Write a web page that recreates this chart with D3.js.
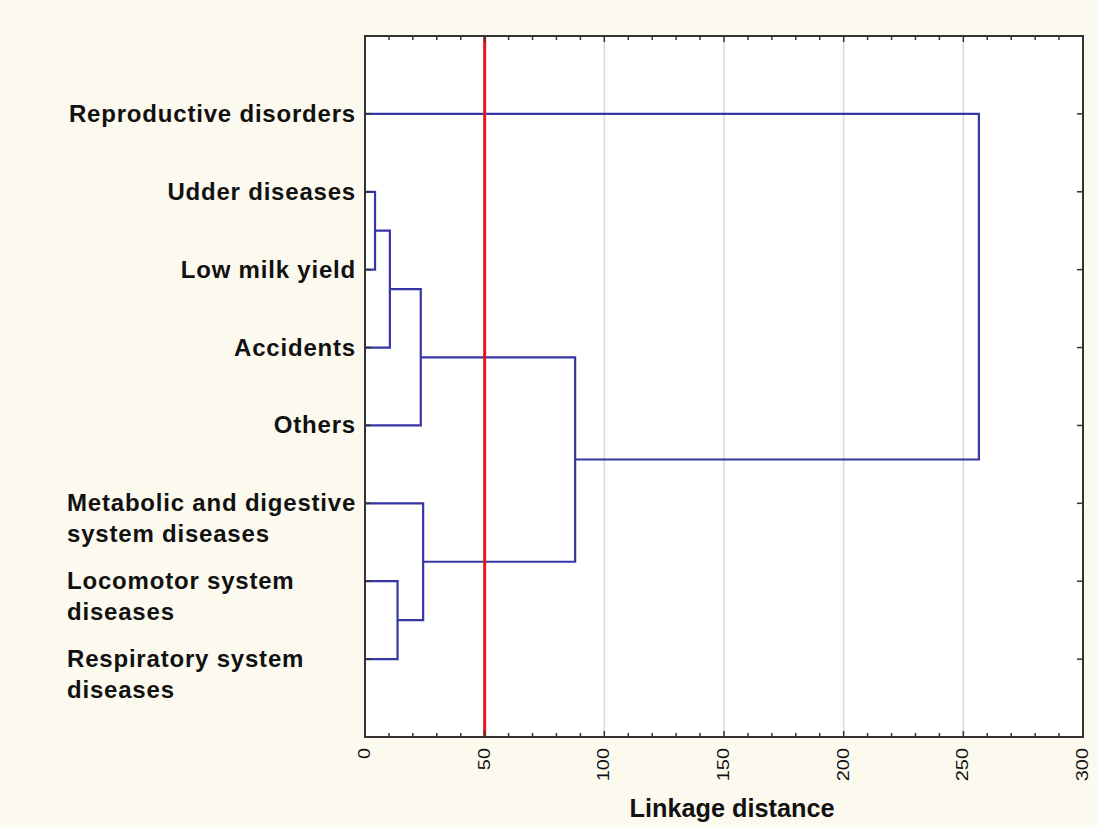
<!DOCTYPE html>
<html><head><meta charset="utf-8">
<script src="https://cdn.jsdelivr.net/npm/d3@7"></script>
<style>
html,body{margin:0;padding:0;background:#fcf9ef;}
svg{display:block;}
</style></head>
<body>
<svg id="chart" width="1097" height="827"></svg>
<script>
// ---- data ----
const leaves = ["Reproductive disorders","Udder diseases","Low milk yield","Accidents","Others",
  "Metabolic and digestive system diseases","Locomotor system diseases","Respiratory system diseases"];
const leafLabelLines = [["Reproductive disorders"],["Udder diseases"],["Low milk yield"],["Accidents"],["Others"],
  ["Metabolic and digestive","system diseases"],["Locomotor system","diseases"],["Respiratory system","diseases"]];
// merges: id, childA, childB, linkage distance
const mergeIds = ["c1","c2","c3","c4","c5","c6","c7"];
const mergeLeft = ["Udder diseases","c1","c2","Locomotor system diseases","Metabolic and digestive system diseases","c3","Reproductive disorders"];
const mergeRight = ["Low milk yield","Accidents","Others","Respiratory system diseases","c4","c5","c6"];
const mergeHeights = [4.2, 10.4, 23.3, 13.6, 24.3, 87.8, 256.5];
const cutoff = 50;
const xTicks = [0,50,100,150,200,250,300];
const xLabel = "Linkage distance";

// ---- layout ----
const svg = d3.select("#chart");
const L = 365, R = 1083, T = 36, B = 737;
const x = d3.scaleLinear().domain([0,300]).range([L,R]);
const y = d3.scalePoint().domain(leaves).range([T,B]).padding(1);

svg.append("rect").attr("x",L).attr("y",T).attr("width",R-L).attr("height",B-T).attr("fill","#ffffff");

// grid
svg.append("g").selectAll("line").data(xTicks.filter(d=>d>0 && d<300)).join("line")
  .attr("x1",d=>x(d)).attr("x2",d=>x(d)).attr("y1",T).attr("y2",B)
  .attr("stroke","#d9d9d9").attr("stroke-width",1.5);

// node positions
const pos = {};
leaves.forEach(l=>pos[l]={x:x(0),y:y(l)});
const blue = "#3636a6";
const g = svg.append("g").attr("fill","none").attr("stroke",blue).attr("stroke-width",2.2);
mergeIds.forEach((id,i)=>{
  const a = pos[mergeLeft[i]], b = pos[mergeRight[i]];
  const hx = x(mergeHeights[i]);
  g.append("path").attr("d",`M${a.x},${a.y}H${hx}V${b.y}H${b.x}`);
  pos[id] = {x:hx, y:(a.y+b.y)/2};
});

// cutoff line
svg.append("line").attr("x1",x(cutoff)).attr("x2",x(cutoff)).attr("y1",T).attr("y2",B)
  .attr("stroke","#e8141c").attr("stroke-width",3);

// axes ticks
const axisColor = "#333";
const minor = d3.range(0,301,10);
const tg = svg.append("g").attr("stroke",axisColor).attr("stroke-width",1.5);
minor.forEach(v=>{
  const len = v%50===0 ? 6 : 4;
  tg.append("line").attr("x1",x(v)).attr("x2",x(v)).attr("y1",B).attr("y2",B-len);
  tg.append("line").attr("x1",x(v)).attr("x2",x(v)).attr("y1",T).attr("y2",T+len);
});
leaves.forEach(l=>{
  tg.append("line").attr("x1",R).attr("x2",R-6).attr("y1",y(l)).attr("y2",y(l));
  tg.append("line").attr("x1",L).attr("x2",L+6).attr("y1",y(l)).attr("y2",y(l));
});
// frame
svg.append("rect").attr("x",L).attr("y",T).attr("width",R-L).attr("height",B-T)
  .attr("fill","none").attr("stroke",axisColor).attr("stroke-width",2);

// x tick labels
svg.append("g").selectAll("text").data(xTicks).join("text")
  .attr("transform",d=>`translate(${x(d)+5},${B+11}) rotate(-90) scale(1,0.82)`)
  .attr("text-anchor","end")
  .attr("font-family","Liberation Sans, Arial, sans-serif").attr("font-size",20).attr("fill","#111")
  .text(d=>d);

svg.append("text").attr("x",732).attr("y",817).attr("text-anchor","middle")
  .attr("font-family","Liberation Sans, Arial, sans-serif").attr("font-weight","bold")
  .attr("font-size",25).attr("textLength",205).attr("lengthAdjust","spacingAndGlyphs")
  .attr("fill","#111").text(xLabel);

// leaf labels
const lab = svg.append("g").attr("font-family","Liberation Sans, Arial, sans-serif").attr("font-weight","bold")
  .attr("font-size",24).attr("letter-spacing",0.8).attr("fill","#111");
leaves.forEach((l,i)=>{
  const lines = leafLabelLines[i];
  if(lines.length===1){
    lab.append("text").attr("x",356).attr("y",y(l)+8).attr("text-anchor","end").text(lines[0]);
  } else {
    lines.forEach((t,j)=>{
      lab.append("text").attr("x",67).attr("y",y(l)+8+j*31).attr("text-anchor","start").text(t);
    });
  }
});
</script>
</body></html>
